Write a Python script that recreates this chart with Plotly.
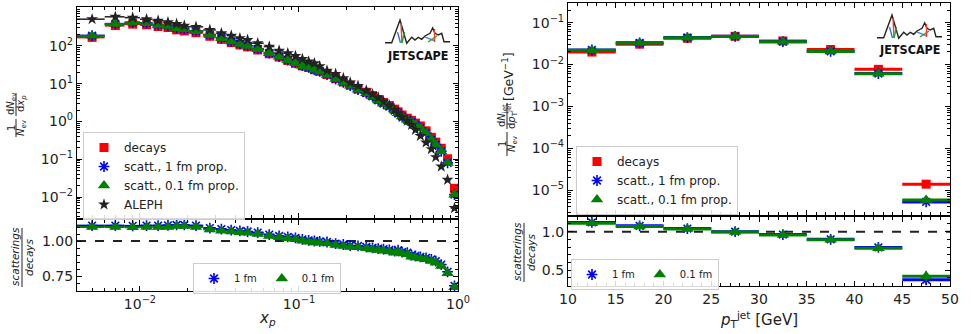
import plotly.graph_objects as go

W, H = 971, 334

# ---------------- data: left panel (charged-hadron xp spectrum) ----------------
xp_edges = [0.004, 0.006, 0.008, 0.010, 0.012, 0.014, 0.016, 0.018, 0.020, 0.025,
            0.030, 0.035, 0.040, 0.045, 0.050, 0.060, 0.070, 0.080, 0.090, 0.100,
            0.110, 0.120, 0.130, 0.140, 0.160, 0.180, 0.200, 0.220, 0.250, 0.280,
            0.300, 0.330, 0.350, 0.390, 0.410, 0.430, 0.460, 0.500, 0.520, 0.560,
            0.600, 0.660, 0.700, 0.750, 0.820, 0.900, 1.000]

aleph_xp = [510, 590, 560, 508, 467, 424, 382, 344, 320, 265,
            217, 187, 160, 144, 118, 96, 75, 64, 54, 45,
            38.5, 34.8, 29.0, 22.2, 18.2, 14.0, 10.7, 8.75, 6.57, 5.27,
            4.29, 3.36, 2.64, 2.03, 1.66, 1.30, 1.04, 0.81, 0.60, 0.416,
            0.277, 0.185, 0.114, 0.064, 0.0285, 0.0051]

decays_xp = [168, 345, 377, 362, 326, 307, 266, 249, 223, 180,
             149, 122, 106, 94.4, 78.1, 61.8, 50.7, 41.2, 34.6, 29.5,
             26.8, 23.4, 21.2, 17.4, 13.6, 11.1, 9.13, 7.18, 5.92, 4.85,
             3.82, 3.17, 2.65, 2.12, 1.80, 1.48, 1.22, 1.07, 0.906, 0.76,
             0.564, 0.38, 0.284, 0.195, 0.103, 0.017]

scatt1_xp = [187, 384, 418, 402, 363, 341, 297, 279, 247, 197,
             162, 131, 114, 101, 83, 64.6, 52.5, 42.4, 35.4, 29.9,
             27.0, 23.4, 21.1, 17.3, 13.3, 10.8, 8.84, 6.93, 5.67, 4.61,
             3.61, 2.98, 2.48, 1.96, 1.68, 1.36, 1.11, 0.96, 0.81, 0.672,
             0.495, 0.33, 0.243, 0.162, 0.080, 0.0116]

scatt01_xp = [185, 380, 414, 398, 359, 338, 294, 276, 245, 195,
              160, 130, 113, 100, 82, 64, 52, 42, 35, 29.6,
              26.7, 23.2, 20.9, 17.1, 13.2, 10.7, 8.75, 6.86, 5.61, 4.56,
              3.57, 2.95, 2.45, 1.94, 1.66, 1.35, 1.10, 0.95, 0.80, 0.665,
              0.49, 0.326, 0.240, 0.160, 0.079, 0.0114]

ratio1_xp = [1.11, 1.11, 1.108, 1.11, 1.11, 1.112, 1.115, 1.115, 1.11, 1.092,
             1.085, 1.078, 1.072, 1.068, 1.06, 1.046, 1.036, 1.03, 1.022, 1.012,
             1.005, 1.0, 0.998, 0.993, 0.982, 0.975, 0.968, 0.965, 0.958, 0.951,
             0.946, 0.942, 0.936, 0.928, 0.934, 0.921, 0.916, 0.899, 0.894, 0.886,
             0.88, 0.869, 0.856, 0.832, 0.78, 0.68]

ratio01_xp = [1.10, 1.10, 1.098, 1.10, 1.10, 1.10, 1.107, 1.107, 1.10, 1.083,
              1.074, 1.067, 1.062, 1.059, 1.05, 1.036, 1.026, 1.019, 1.012, 1.002,
              0.995, 0.99, 0.988, 0.983, 0.971, 0.964, 0.958, 0.955, 0.948, 0.94,
              0.935, 0.931, 0.925, 0.917, 0.924, 0.91, 0.905, 0.888, 0.883, 0.875,
              0.869, 0.858, 0.845, 0.821, 0.769, 0.669]

# ---------------- data: right panel (jet pT spectrum) ----------------
pt_edges = [10, 15, 20, 25, 30, 35, 40, 45, 50]
decays_pt = [0.0199, 0.0307, 0.0425, 0.0473, 0.0367, 0.0229, 0.0077, 1.40e-5]
scatt1_pt = [0.0223, 0.0330, 0.0442, 0.0473, 0.0353, 0.0206, 0.00612, 5.27e-6]
scatt01_pt = [0.0221, 0.0328, 0.0440, 0.0471, 0.0352, 0.0205, 0.00605, 5.9e-6]
ratio1_pt = [1.12, 1.075, 1.04, 1.0, 0.962, 0.90, 0.795, 0.376]
ratio01_pt = [1.11, 1.068, 1.035, 0.996, 0.958, 0.894, 0.786, 0.423]
ratio1_pt_err = [0.01, 0.01, 0.01, 0.01, 0.01, 0.012, 0.015, 0.06]
ratio01_pt_err = [0.01, 0.01, 0.01, 0.01, 0.01, 0.012, 0.015, 0.07]

# tick labels
log_ticks_left = [1e-2, 1e-1, 1, 10, 100]
log_text_left = ["10<sup>\u22122</sup>", "10<sup>\u22121</sup>", "10<sup>0</sup>",
                 "10<sup>1</sup>", "10<sup>2</sup>"]
xp_ticks = [1e-2, 1e-1, 1]
xp_text = ["10<sup>\u22122</sup>", "10<sup>\u22121</sup>", "10<sup>0</sup>"]
log_ticks_right = [1e-5, 1e-4, 1e-3, 1e-2, 1e-1]
log_text_right = ["10<sup>\u22125</sup>", "10<sup>\u22124</sup>", "10<sup>\u22123</sup>",
                  "10<sup>\u22122</sup>", "10<sup>\u22121</sup>"]

# ---------------- derived bin geometry ----------------
xp_c = [(a + b) / 2 for a, b in zip(xp_edges[:-1], xp_edges[1:])]
xp_hw = [(b - a) / 2 for a, b in zip(xp_edges[:-1], xp_edges[1:])]
pt_c = [(a + b) / 2 for a, b in zip(pt_edges[:-1], pt_edges[1:])]
pt_hw = [(b - a) / 2 for a, b in zip(pt_edges[:-1], pt_edges[1:])]

RED, BLUE, GREEN, BLACK = "#ff0000", "#0000ff", "#008000", "#222222"
FONT = "DejaVu Sans"

fig = go.Figure()


def series(x, y, xerr, name, color, symbol, size, xa, ya, legend, showlegend,
           yerr=None, thick=2.0, lw=0):
    marker = dict(symbol=symbol, size=size, color=color,
                  line=dict(color=color, width=lw))
    ey = dict(type="data", array=yerr, color=color, thickness=1.5, width=0,
              visible=yerr is not None)
    fig.add_trace(go.Scatter(
        x=x, y=y, mode="markers", name=name, marker=marker,
        error_x=dict(type="data", array=xerr, color=color, thickness=thick, width=0),
        error_y=ey, xaxis=xa, yaxis=ya, legend=legend, showlegend=showlegend))


# left main
series(xp_c, decays_xp, xp_hw, "decays", RED, "square", 9, "x", "y", "legend", True)
series(xp_c, scatt1_xp, xp_hw, "scatt., 1 fm prop.", BLUE, "asterisk-open", 9, "x", "y",
       "legend", True, lw=1.6)
series(xp_c, scatt01_xp, xp_hw, "scatt., 0.1 fm prop.", GREEN, "triangle-up", 11, "x", "y",
       "legend", True)
series(xp_c, aleph_xp, xp_hw, "ALEPH", BLACK, "star", 9, "x", "y", "legend", True,
       thick=1.5)
# left ratio
series(xp_c, ratio1_xp, xp_hw, "1 fm", BLUE, "asterisk-open", 9, "x2", "y2", "legend2",
       True, lw=1.6)
series(xp_c, ratio01_xp, xp_hw, "0.1 fm", GREEN, "triangle-up", 11, "x2", "y2", "legend2",
       True)
# right main
series(pt_c, decays_pt, pt_hw, "decays", RED, "square", 9, "x3", "y3", "legend3", True,
       thick=3)
series(pt_c, scatt1_pt, pt_hw, "scatt., 1 fm prop.", BLUE, "asterisk-open", 9, "x3", "y3",
       "legend3", True, thick=3, lw=1.6)
series(pt_c, scatt01_pt, pt_hw, "scatt., 0.1 fm prop.", GREEN, "triangle-up", 11, "x3", "y3",
       "legend3", True, thick=3)
# right ratio
series(pt_c, ratio1_pt, pt_hw, "1 fm", BLUE, "asterisk-open", 9, "x4", "y4", "legend4",
       True, yerr=ratio1_pt_err, thick=3, lw=1.6)
series(pt_c, ratio01_pt, pt_hw, "0.1 fm", GREEN, "triangle-up", 11, "x4", "y4", "legend4",
       True, yerr=ratio01_pt_err, thick=3)


def px(x):
    return x / W


def py(y):
    return 1 - y / H


def log_minor(lo, hi):
    return [m * 10.0 ** e for e in range(lo, hi) for m in range(2, 10)]


axis_common = dict(showgrid=False, zeroline=False, showline=True, linecolor="black",
                   linewidth=1.2, ticks="inside", ticklen=5, tickwidth=1,
                   tickcolor="black", mirror="allticks", automargin=False,
                   tickfont=dict(family=FONT, size=14, color="#222"))

L0, L1 = px(77), px(458)
R0, R1 = px(568), px(950)

layout_axes = dict(
    xaxis=dict(axis_common, domain=[L0, L1], type="log", range=[-2.396, 0],
               anchor="y", showticklabels=False, tickvals=xp_ticks,
               minor=dict(ticks="inside", ticklen=3, tickvals=log_minor(-3, 1),
                          tickcolor="black")),
    yaxis=dict(axis_common, domain=[py(218), py(7)], type="log", range=[-2.556, 3.03],
               anchor="x", tickvals=log_ticks_left, ticktext=log_text_left,
               minor=dict(ticks="inside", ticklen=3, tickvals=log_minor(-3, 4),
                          tickcolor="black")),
    xaxis2=dict(axis_common, domain=[L0, L1], type="log", range=[-2.396, 0],
                anchor="y2", tickvals=xp_ticks, ticktext=xp_text,
                minor=dict(ticks="inside", ticklen=3, tickvals=log_minor(-3, 1),
                           tickcolor="black")),
    yaxis2=dict(axis_common, domain=[py(291), py(220)], range=[0.643, 1.15],
                anchor="x2", tickvals=[0.75, 1.0], ticktext=["0.75", "1.00"],
                minor=dict(ticks="inside", ticklen=3, dtick=0.05, tick0=0,
                           tickcolor="black")),
    xaxis3=dict(axis_common, domain=[R0, R1], range=[10, 50], anchor="y3",
                showticklabels=False, dtick=5,
                minor=dict(ticks="inside", ticklen=3, dtick=1, tickcolor="black")),
    yaxis3=dict(axis_common, domain=[py(215), py(3)], type="log", range=[-5.59, -0.53],
                anchor="x3", tickvals=log_ticks_right, ticktext=log_text_right,
                minor=dict(ticks="inside", ticklen=3, tickvals=log_minor(-6, 0),
                           tickcolor="black")),
    xaxis4=dict(axis_common, domain=[R0, R1], range=[10, 50], anchor="y4", dtick=5,
                minor=dict(ticks="inside", ticklen=3, dtick=1, tickcolor="black")),
    yaxis4=dict(axis_common, domain=[py(286), py(217)], range=[0.295, 1.19],
                anchor="x4", tickvals=[0.5, 1.0], ticktext=["0.5", "1.0"],
                minor=dict(ticks="inside", ticklen=3, dtick=0.1, tick0=0,
                           tickcolor="black")),
)

legend_common = dict(bgcolor="rgba(255,255,255,0.85)", bordercolor="#cccccc",
                     borderwidth=1, xanchor="left", yanchor="top")

fig.update_layout(
    template="none",
    width=W, height=H, margin=dict(l=0, r=0, t=0, b=0, pad=0), autosize=False,
    paper_bgcolor="white", plot_bgcolor="white",
    font=dict(family=FONT, color="#222"),
    legend=dict(legend_common, x=px(83), y=py(132), font=dict(size=12, family=FONT),
                tracegroupgap=0),
    legend2=dict(legend_common, x=px(193), y=py(263), orientation="h",
                 font=dict(size=10, family=FONT)),
    legend3=dict(legend_common, x=px(576), y=py(146), font=dict(size=12, family=FONT)),
    legend4=dict(legend_common, x=px(571), y=py(259), orientation="h",
                 font=dict(size=10, family=FONT)),
    **layout_axes,
)

# reference lines at 1 in ratio panels
for xa, ya in (("x2", "y2"), ("x4", "y4")):
    fig.add_shape(type="line", xref=xa + " domain", yref=ya, x0=0, x1=1, y0=1, y1=1,
                  line=dict(color="#222", width=2, dash="dash"), layer="below")

annotations = []
shapes = []


def vtext(x, y, text, size, italic=False):
    if italic:
        text = "<i>" + text + "</i>"
    annotations.append(dict(x=px(x), y=py(y), xref="paper", yref="paper", text=text,
                            textangle=-90, showarrow=False, xanchor="center",
                            yanchor="middle", font=dict(family=FONT, size=size,
                                                        color="#222")))


def vbar(x, y0, y1):
    shapes.append(dict(type="line", xref="paper", yref="paper", x0=px(x), x1=px(x),
                       y0=py(y0), y1=py(y1), line=dict(color="#222", width=1)))


# left main y label: 1/N_ev dN_ev/dx_p
vtext(11, 128, "1", 10)
vtext(21, 128, "<i>N</i><sub>ev</sub>", 10)
vbar(16, 119, 137)
vtext(11, 104, "d<i>N</i><sub>ev</sub>", 10)
vtext(21, 104, "d<i>x</i><sub><i>p</i></sub>", 10)
vbar(16, 93, 116)
# left ratio label
vtext(15, 257, "scatterings", 10.5, italic=True)
vtext(29, 257, "decays", 10.5, italic=True)
vbar(22, 228, 287)
# right main y label
vtext(502, 144, "1", 10)
vtext(512, 144, "<i>N</i><sub>ev</sub>", 10)
vbar(507, 132, 156)
vtext(502, 116, "d<i>N</i><sub>jet</sub>", 10)
vtext(512, 116, "d<i>p</i><sub>T</sub><sup>jet</sup>", 10)
vbar(507, 103, 129)
vtext(508, 76, "[GeV<sup>\u22121</sup>]", 12.5)
# right ratio label
vtext(517, 252, "scatterings", 10.5, italic=True)
vtext(531, 252, "decays", 10.5, italic=True)
vbar(524, 223, 282)

# x axis titles
annotations.append(dict(x=(L0 + L1) / 2, y=py(318), xref="paper", yref="paper",
                        text="<i>x</i><sub><i>p</i></sub>", showarrow=False,
                        xanchor="center", yanchor="middle",
                        font=dict(family=FONT, size=15, color="#222")))
annotations.append(dict(x=(R0 + R1) / 2, y=py(319), xref="paper", yref="paper",
                        text="<i>p</i><sub>T</sub><sup>jet</sup> [GeV]", showarrow=False,
                        xanchor="center", yanchor="middle",
                        font=dict(family=FONT, size=15, color="#222")))


# JETSCAPE logos (decorative)
def logo(ox, oy):
    def path(pts):
        s = "M " + " L ".join(f"{px(ox + a)},{py(oy + b)}" for a, b in pts)
        return s
    black = [(0, 25.7), (6.7, 25.7), (15, 3), (21.7, 26.3), (26.7, 20.3), (30, 23),
             (33.3, 20.3), (36.7, 22.3), (40, 19), (45, 16.3), (47.7, 11), (50, 16.3),
             (53.3, 18), (56.7, 16.3), (59, 24.7), (65, 24.7)]
    shapes.append(dict(type="path", xref="paper", yref="paper", path=path(black),
                       line=dict(color="#222", width=1.4)))
    for pts, col in (([(16, 6), (17, 26)], "#e8402c"), ([(12.5, 15), (15.5, 26)], "#3a6fd8"),
                     ([(19.5, 15), (17, 26)], "#2ca02c"), ([(40, 20), (50, 24)], "#5b8be0"),
                     ([(43, 25), (52, 19)], "#2ca02c"), ([(49.5, 12), (49.5, 25)], "#e8402c")):
        shapes.append(dict(type="path", xref="paper", yref="paper", path=path(pts),
                           line=dict(color=col, width=1.4)))
    annotations.append(dict(x=px(ox + 32.5), y=py(oy + 38), xref="paper", yref="paper",
                            text="<b>JETSCAPE</b>", showarrow=False, xanchor="center",
                            yanchor="middle",
                            font=dict(family="DejaVu Sans Condensed, DejaVu Sans",
                                      size=12.5, color="#111")))


logo(385, 17)
logo(877, 12)

fig.update_layout(annotations=annotations)
for s in shapes:
    fig.add_shape(**s)

fig.write_html("out.html", config={"displayModeBar": False},
               post_script="document.body.style.margin='0';"
                           "document.body.style.overflow='hidden';")
